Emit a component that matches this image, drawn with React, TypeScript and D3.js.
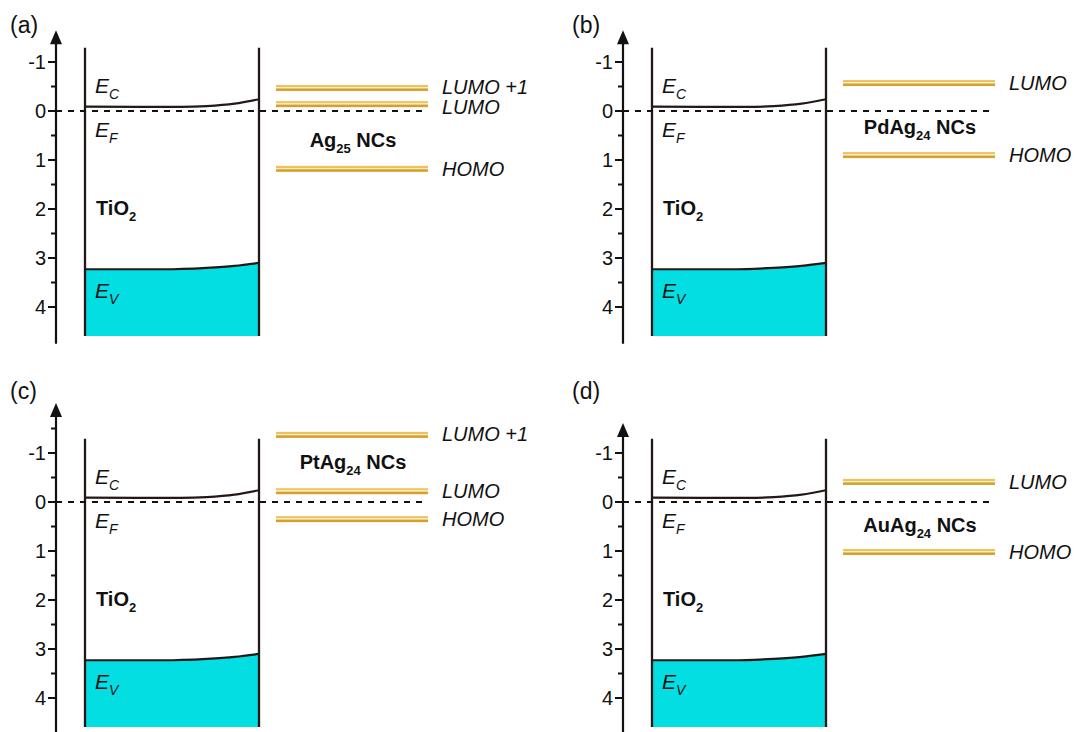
import React from "react";
import * as d3 from "d3";

// ---- data ----
const panelLetters = ["(a)", "(b)", "(c)", "(d)"];
const clusterBase = ["Ag", "PdAg", "PtAg", "AuAg"];
const clusterSub = ["25", "24", "24", "24"];
const lumoPlus1 = [-0.47, null, -1.37, null];
const lumo = [-0.14, -0.57, -0.22, -0.41];
const homo = [1.18, 0.9, 0.35, 1.02];
const clusterLabelY = [0.73, 0.47, -0.67, 0.61];
const axisTop = [-1.65, -1.65, -2.02, -1.61];
const axisBottom = 4.75;
const majorTicks = [-1, 0, 1, 2, 3, 4];
const minorTicks = [-1.5, -0.5, 0.5, 1.5, 2.5, 3.5];
// TiO2 band edges (fraction across the TiO2 box, energy)
const ecFrac = [0, 0.3, 0.55, 0.7, 0.86, 1];
const ecVal = [-0.09, -0.085, -0.085, -0.1, -0.15, -0.24];
const evFrac = [0, 0.45, 0.7, 0.86, 1];
const evVal = [3.23, 3.23, 3.2, 3.16, 3.1];
const boxTop = -1.29;
const boxBottom = 4.59;

const FONT = "'Liberation Sans', Arial, Helvetica, sans-serif";
const INK = "#231815";

function Panel({ i }: { i: number }) {
  const col = i % 2;
  const row = Math.floor(i / 2);
  const ax = col === 0 ? 56 : 623;
  const zeroY = row === 0 ? 111 : 502;
  const y = d3.scaleLinear().domain([0, 1]).range([zeroY, zeroY + 49]);
  const boxL = ax + 29;
  const boxR = ax + 203;
  const x = d3.scaleLinear().domain([0, 1]).range([boxL, boxR]);
  const lvlL = ax + 220;
  const lvlR = ax + 372;
  const labX = ax + 386;

  const ec = ecFrac.map((f, k) => [f, ecVal[k]] as [number, number]);
  const ev = evFrac.map((f, k) => [f, evVal[k]] as [number, number]);
  const line = d3
    .line<[number, number]>()
    .x((d) => x(d[0]))
    .y((d) => y(d[1]))
    .curve(d3.curveMonotoneX);
  const area = d3
    .area<[number, number]>()
    .x((d) => x(d[0]))
    .y0(y(boxBottom))
    .y1((d) => y(d[1]))
    .curve(d3.curveMonotoneX);

  const arrowTipY = y(axisTop[i]);
  const arrowBase = arrowTipY + 14;

  const levels: { v: number; label: string; shift: number }[] = [];
  if (lumoPlus1[i] != null) levels.push({ v: lumoPlus1[i] as number, label: "LUMO +1", shift: -1 });
  levels.push({ v: lumo[i], label: "LUMO", shift: i === 0 ? 3 : 0 });
  levels.push({ v: homo[i], label: "HOMO", shift: 0 });

  const letterY = row === 0 ? 33 : 399;

  return (
    <g>
      {/* panel letter */}
      <text x={col === 0 ? 10 : 572} y={letterY} fontSize={23} fontFamily={FONT} fill="#111">
        {panelLetters[i]}
      </text>

      {/* valence band fill */}
      <path d={area(ev) || ""} fill="#03DEE3" />
      <path d={line(ev) || ""} fill="none" stroke={INK} strokeWidth={2.2} />
      <path d={line(ec) || ""} fill="none" stroke={INK} strokeWidth={2.2} />

      {/* box sides */}
      <line x1={boxL} x2={boxL} y1={y(boxTop)} y2={y(boxBottom)} stroke={INK} strokeWidth={2.3} />
      <line x1={boxR} x2={boxR} y1={y(boxTop)} y2={y(boxBottom)} stroke={INK} strokeWidth={2.3} />

      {/* Fermi level */}
      <line
        x1={ax}
        x2={lvlR}
        y1={y(0)}
        y2={y(0)}
        stroke="#111"
        strokeWidth={2}
        strokeDasharray="6,6"
      />

      {/* axis */}
      <line x1={ax} x2={ax} y1={arrowBase - 1} y2={y(axisBottom)} stroke="#111" strokeWidth={2.2} />
      <path
        d={`M${ax},${arrowTipY} L${ax - 6},${arrowBase} L${ax + 6},${arrowBase} Z`}
        fill="#111"
      />
      {majorTicks.map((t) => (
        <g key={"M" + t}>
          <line x1={ax - 8} x2={ax} y1={y(t)} y2={y(t)} stroke="#111" strokeWidth={2} />
          <text
            x={ax - 10}
            y={y(t) + 7}
            textAnchor="end"
            fontSize={20}
            fontFamily={FONT}
            fill="#111"
          >
            {t}
          </text>
        </g>
      ))}
      {minorTicks
        .filter((t) => y(t) > arrowBase + 2)
        .map((t) => (
          <line key={"m" + t} x1={ax - 5} x2={ax} y1={y(t)} y2={y(t)} stroke="#111" strokeWidth={2} />
        ))}

      {/* TiO2 labels */}
      <text x={boxL + 10} y={y(-0.37)} fontSize={21} fontStyle="italic" fontFamily={FONT} fill="#111">
        E
        <tspan fontSize={14} dy={6}>C</tspan>
      </text>
      <text x={boxL + 10} y={y(0.53)} fontSize={21} fontStyle="italic" fontFamily={FONT} fill="#111">
        E
        <tspan fontSize={14} dy={6}>F</tspan>
      </text>
      <text x={boxL + 10} y={y(3.82)} fontSize={21} fontStyle="italic" fontFamily={FONT} fill="#111">
        E
        <tspan fontSize={14} dy={6}>V</tspan>
      </text>
      <text x={boxL + 11} y={y(2.12)} fontSize={20} fontWeight="bold" fontFamily={FONT} fill="#111">
        TiO
        <tspan fontSize={13} dy={6}>2</tspan>
      </text>

      {/* cluster levels */}
      {levels.map((l, k) => {
        const ly = y(l.v);
        return (
          <g key={k}>
            <rect x={lvlL} width={lvlR - lvlL} y={ly - 3} height={2.2} fill="#EBC35E" />
            <rect x={lvlL} width={lvlR - lvlL} y={ly - 0.8} height={1.2} fill="#FBEBC0" />
            <rect x={lvlL} width={lvlR - lvlL} y={ly + 0.4} height={2.6} fill="#D6A02A" />
            <text
              x={labX}
              y={ly + 7 + l.shift}
              fontSize={20}
              fontStyle="italic"
              fontFamily={FONT}
              fill="#111"
            >
              {l.label}
            </text>
          </g>
        );
      })}

      {/* cluster name */}
      <text
        x={ax + 297}
        y={y(clusterLabelY[i])}
        textAnchor="middle"
        fontSize={20}
        fontWeight="bold"
        fontFamily={FONT}
        fill="#111"
      >
        {clusterBase[i]}
        <tspan fontSize={13} dy={6}>{clusterSub[i]}</tspan>
        <tspan dy={-6}> NCs</tspan>
      </text>
    </g>
  );
}

export default function App() {
  return (
    <svg
      width={1076}
      height={732}
      style={{ position: "absolute", left: 0, top: 0, background: "#fff" }}
    >
      <rect width={1076} height={732} fill="#fff" />
      {[0, 1, 2, 3].map((i) => (
        <Panel key={i} i={i} />
      ))}
    </svg>
  );
}
